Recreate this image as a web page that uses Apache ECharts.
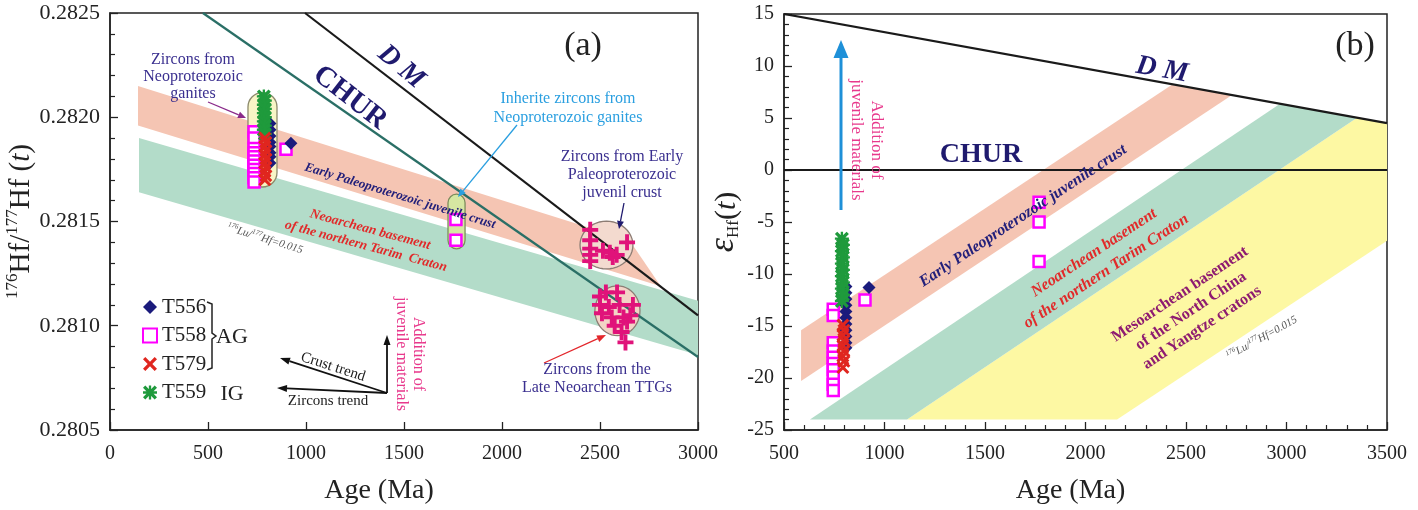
<!DOCTYPE html>
<html><head><meta charset="utf-8">
<script src="https://cdn.jsdelivr.net/npm/echarts@6/dist/echarts.min.js"></script>
<style>html,body{margin:0;padding:0;background:#fff}#c{width:1418px;height:510px}</style>
</head><body><div id="c"></div>
<script>
// ================= DATA =================
// Panel (a): 176Hf/177Hf(t) vs Age (Ma)
const dmLineA   = [[995, 0.28250], [3000, 0.28105]];
const churLineA = [[474, 0.28250], [3000, 0.28085]];
const pinkBandA  = [[143, 0.28215], [2650, 0.28141], [2810, 0.28119], [143, 0.28196]];
const greenBandA = [[148, 0.28190], [3000, 0.28112], [3000, 0.28086], [148, 0.28164]];

const t556A = [[816,0.28197],[816,0.28194],[816,0.28191],[816,0.28188],[816,0.28186],[816,0.28183],[816,0.28181],[816,0.28178],[923,0.281875]];
const t558A = [[735,0.28193],[735,0.28190],[735,0.28185],[735,0.28183],[735,0.28181],[735,0.28179],[735,0.28177],[735,0.28175],[735,0.28173],[735,0.28171],[735,0.28169],[898,0.281846],[1765,0.28151],[1765,0.28141]];
const t579A = [[790,0.28190],[795,0.28188],[790,0.28186],[795,0.28184],[790,0.28182],[795,0.28180],[790,0.28178],[795,0.28176],[790,0.28174],[795,0.28172],[790,0.28170]];
const t559A = [[785,0.28210],[790,0.28208],[785,0.28206],[790,0.28204],[785,0.28202],[790,0.28200],[785,0.28198],[790,0.28196],[785,0.28194],[790,0.28192]];
const earlyPaleoZirconsA = [[2450,0.28146],[2450,0.28141],[2450,0.28137],[2450,0.28134],[2450,0.28131],[2515,0.28136],[2550,0.28135],[2565,0.28133],[2585,0.28134],[2638,0.28140]];
const lateNeoarcheanZirconsA = [[2500,0.28114],[2500,0.28110],[2510,0.28106],[2530,0.28116],[2545,0.28109],[2560,0.28104],[2575,0.28100],[2587,0.28116],[2600,0.28110],[2610,0.28097],[2620,0.28104],[2630,0.28092],[2638,0.28102],[2668,0.28110],[2655,0.28105]];
// grouped sample regions [centre age, centre value, width (Ma), height]
const blobRegionsA = [[778, 0.281892, 148, 0.000453], [1768, 0.281500, 87, 0.000262], [2533, 0.281387, 270, 0.000229], [2589, 0.281072, 230, 0.000239]];

// Panel (b): εHf(t) vs Age (Ma)
const dmLineB   = [[500, 15], [3500, 4.5]];
const churLineB = [[500, 0], [3500, 0]];
const pinkBandB   = [[585, -15.4], [2430, 8.2], [2729, 7.2], [585, -20.3]];
const greenBandB  = [[629, -24], [2968, 6.36], [3351, 5.02], [1112, -24]];
const yellowBandB = [[1112, -24], [3351, 5.02], [3500, 4.5], [3500, -6.8], [2157, -24]];

const t556B = [[808,-11.2],[808,-11.8],[808,-12.4],[808,-13.0],[808,-13.6],[808,-14.2],[808,-14.8],[808,-15.4],[808,-16.0],[808,-16.6],[808,-17.1],[923,-11.3]];
const t558B = [[745,-13.4],[745,-14.0],[745,-16.6],[745,-17.4],[745,-18.0],[745,-18.6],[745,-19.2],[745,-19.9],[745,-20.6],[745,-21.2],[903,-12.5],[1769,-3.1],[1769,-5.0],[1769,-8.8]];
const t579B = [[793,-14.9],[798,-15.4],[793,-15.9],[798,-16.4],[793,-16.9],[798,-17.4],[793,-17.9],[798,-18.4],[793,-19.0]];
const t559B = [[788,-6.6],[793,-7.2],[788,-7.8],[793,-8.4],[788,-9.0],[793,-9.6],[788,-10.2],[793,-10.8],[788,-11.4],[793,-12.0],[788,-12.6]];

// axis ranges / ticks
const axisA = {xMin:0, xMax:3000, xStep:500, yMin:0.2805, yMax:0.2825, yStep:0.0005};
const axisB = {xMin:500, xMax:3500, xStep:500, yMin:-25, yMax:15, yStep:5};

// ================= STYLE / LAYOUT =================
const SERIF = '"Liberation Serif","Times New Roman",serif';
const C = {navy:'#1f1a6e', ann:'#3a2f8f', red:'#e12a2a', blue:'#2a9fe0', mag:'#e8388c', purple:'#8e1b70',
  pink:'#f5c5b3', green:'#b3dcc9', yellow:'#fdf8a3', cross:'#e0137a'};
const P_STAR = 'path://M2,0 L6,4 L10,0 L12,2 L8,6 L12,10 L10,12 L6,8 L2,12 L0,10 L4,6 L0,2 Z M0,5 L12,5 L12,7 L0,7 Z M5,0 L7,0 L7,12 L5,12 Z';
const P_X = 'path://M2,0 L6,4 L10,0 L12,2 L8,6 L12,10 L10,12 L6,8 L2,12 L0,10 L4,6 L0,2 Z';
const P_PLUS = 'path://M5.3,0 L8.7,0 L8.7,5.3 L14,5.3 L14,8.7 L8.7,8.7 L8.7,14 L5.3,14 L5.3,8.7 L0,8.7 L0,5.3 L5.3,5.3 Z';

function bandSeries(pts, color, gi, z) {
  return {type:'custom', xAxisIndex:gi, yAxisIndex:gi, z:z, silent:true, clip:true,
    data: pts, encode:{x:0, y:1},
    renderItem: function (params, api) {
      if (params.dataIndex !== 0) return null;
      return {type:'polygon', shape:{points: pts.map(p => api.coord(p))}, style:{fill: color}};
    }};
}
const blobStyles = [
  {fill:'#f8f5c6', stroke:'#8c8a6c', kind:'stadium'},
  {fill:'#d6e7a2', stroke:'#7d8c5c', kind:'stadium'},
  {fill:'#f3dacf', stroke:'#8c7c74', kind:'ellipse'},
  {fill:'#f3d3c6', stroke:'#8c7c74', kind:'ellipse'}
];
function blobSeries() {
  return {type:'custom', xAxisIndex:0, yAxisIndex:0, z:3, silent:true, data: blobRegionsA,
    encode:{x:0, y:1},
    renderItem: function (params, api) {
      const d = blobRegionsA[params.dataIndex];
      const c = api.coord([d[0], d[1]]);
      const s = api.size([d[2], d[3]]);
      const st = blobStyles[params.dataIndex];
      const style = {fill: st.fill, stroke: st.stroke, lineWidth: 1.3};
      if (st.kind === 'stadium') {
        return {type:'rect', shape:{x:c[0]-s[0]/2, y:c[1]-s[1]/2, width:s[0], height:s[1], r:s[0]/2}, style};
      }
      const pts = [];
      for (let k = 0; k < 48; k++) { const a = k/48*2*Math.PI; pts.push([c[0]+s[0]/2*Math.cos(a), c[1]+s[1]/2*Math.sin(a)]); }
      return {type:'polygon', shape:{points:pts}, style};
    }};
}
function lineSeries(data, color, gi, w) {
  return {type:'line', xAxisIndex:gi, yAxisIndex:gi, data, symbol:'none', silent:true, z:4,
    lineStyle:{color, width:w}, clip:true};
}
const sym = {
  T556: {symbol:'diamond', symbolSize:13, itemStyle:{color:'#1b1b7c', opacity:1}},
  T558: {symbol:'rect', symbolSize:11, itemStyle:{color:'#ffffff', borderColor:'#ff00ff', borderWidth:2.5, opacity:1}},
  T579: {symbol:P_X, symbolSize:13, itemStyle:{color:'#e0261f', opacity:1}},
  T559: {symbol:P_STAR, symbolSize:14, itemStyle:{color:'#1f9a3c', opacity:1}}
};
function scat(name, data, gi, z) {
  return Object.assign({type:'scatter', name, xAxisIndex:gi, yAxisIndex:gi, data, z, silent:true}, sym[name]);
}
function cross(name, data) {
  return {type:'scatter', name, xAxisIndex:0, yAxisIndex:0, data, z:6, symbol:P_PLUS, symbolSize:16,
    itemStyle:{color:C.cross, opacity:1}, silent:true};
}

function xAxis(gi, ax, minor) {
  return {gridIndex:gi, type:'value', min:ax.xMin, max:ax.xMax, interval:ax.xStep,
    axisLine:{show:true, onZero:false, lineStyle:{color:'#222', width:1.5}},
    axisTick:{show:true, inside:true, length:8, lineStyle:{color:'#222', width:1.3}},
    minorTick:{show:minor, splitNumber:5, length:5, lineStyle:{color:'#222', width:1.2}},
    axisLabel:{fontSize:20, fontFamily:SERIF, color:'#222', margin:14, formatter: v => String(v)},
    splitLine:{show:false},
    name:'Age (Ma)', nameLocation:'middle', nameGap:47,
    nameTextStyle:{fontSize:28, fontFamily:SERIF, color:'#222', padding: gi === 0 ? [0,50,0,0] : [0,30,0,0]}};
}
function yAxis(gi, ax, fmt, fs, name, nameStyle, gap) {
  return {gridIndex:gi, type:'value', min:ax.yMin, max:ax.yMax, interval:ax.yStep,
    axisLine:{show:true, onZero:false, lineStyle:{color:'#222', width:1.5}},
    axisTick:{show:true, inside:true, length:8, lineStyle:{color:'#222', width:1.3}},
    minorTick:{show:true, splitNumber:5, length:5, lineStyle:{color:'#222', width:1.2}},
    axisLabel:{fontSize:fs, fontFamily:SERIF, color:'#222', margin:10, formatter:fmt},
    splitLine:{show:false},
    name, nameLocation:'middle', nameRotate:90, nameGap:gap, nameTextStyle:nameStyle};
}

// -------- annotations (graphic) --------
function txt(x, y, text, o) {
  o = o || {};
  return {type:'text', x, y, rotation:(o.rot || 0) * Math.PI / 180, z:100, silent:true,
    style:{text, fill:o.color || '#222', fontSize:o.size || 16, fontFamily:SERIF,
      fontWeight:o.weight || 'normal', fontStyle:o.style || 'normal', align:'center', verticalAlign:'middle',
      lineHeight:o.lh || undefined, rich:o.rich}};
}
function arrow(x1, y1, x2, y2, color, w, hl, hw) {
  const a = Math.atan2(y2-y1, x2-x1);
  const bx = x2 - hl*Math.cos(a), by = y2 - hl*Math.sin(a);
  const px = -Math.sin(a)*hw, py = Math.cos(a)*hw;
  return [
    {type:'line', z:90, silent:true, shape:{x1, y1, x2:bx, y2:by}, style:{stroke:color, lineWidth:w}},
    {type:'polygon', z:90, silent:true, shape:{points:[[x2,y2],[bx+px,by+py],[bx-px,by-py]]}, style:{fill:color}}
  ];
}
const luRich = {s:{fontSize:7, fontStyle:'italic', fontFamily:SERIF, fill:'#555', verticalAlign:'top', lineHeight:14},
                t:{fontSize:11, fontStyle:'italic', fontFamily:SERIF, fill:'#555', lineHeight:14}};
const graphics = [].concat(
  // panel (a)
  txt(583, 46, '(a)', {size:34}),
  txt(401, 67, 'D M', {size:28, weight:'bold', style:'italic', color:C.navy, rot:-40}),
  txt(350, 98, 'CHUR', {size:29, weight:'bold', color:C.navy, rot:-38}),
  txt(193, 77, 'Zircons from\nNeoproterozoic\nganites', {size:16, color:C.ann, lh:17}),
  arrow(208, 102, 246, 118, '#8a2a8a', 1.3, 8, 3.5),
  txt(568, 108, 'Inherite zircons from\nNeoproterozoic ganites', {size:16, color:C.blue, lh:19}),
  arrow(517, 125, 458, 197, C.blue, 1.3, 8, 3.5),
  txt(622, 175, 'Zircons from Early\nPaleoproterozoic\njuvenil crust', {size:16, color:C.ann, lh:18}),
  arrow(624, 203, 619, 229, C.navy, 1.3, 8, 3.5),
  txt(597, 379, 'Zircons from the\nLate Neoarchean TTGs', {size:16, color:C.ann, lh:18}),
  arrow(544, 363, 606, 335, '#e3262b', 1.3, 9, 3.5),
  txt(400, 196, 'Early Paleoproterozoic juvenile crust', {size:13, weight:'bold', style:'italic', color:'#23207a', rot:-17}),
  txt(368, 238, 'Neoarchean basement\nof the northern Tarim  Craton', {size:13.5, weight:'bold', style:'italic', color:C.red, rot:-15, lh:17}),
  txt(265, 239, '{s|176}{t|Lu/}{s|177}{t|Hf=0.015}', {rot:-17, rich:luRich}),
  // legend extras
  {type:'polyline', z:100, silent:true, shape:{points:[[207,302],[212,304],[212,333],[216,336],[212,339],[212,368],[207,370]]}, style:{stroke:'#222', lineWidth:1.5, fill:null}},
  txt(232, 337, 'AG', {size:22}),
  txt(232, 394, 'IG', {size:22}),
  // trend arrows
  arrow(387, 393, 280, 358, '#111', 1.8, 10, 3.5),
  arrow(387, 393, 277, 388, '#111', 1.8, 10, 3.5),
  arrow(387, 393, 387, 335, '#111', 1.8, 10, 3.5),
  txt(333, 367, 'Crust trend', {size:15, rot:-18}),
  txt(328, 401, 'Zircons trend', {size:15}),
  txt(410, 354, 'Addition of\njuvenile materials', {size:16, color:C.mag, rot:-90, lh:17}),
  // panel (b)
  txt(1355, 46, '(b)', {size:34}),
  txt(1162, 70, 'D M', {size:28, weight:'bold', style:'italic', color:C.navy, rot:-10}),
  txt(981, 155, 'CHUR', {size:28, weight:'bold', color:C.navy}),
  arrow(841, 210, 841, 40, '#1e90d8', 3, 18, 7.5),
  txt(866, 140, 'Addition of\njuvenile materials', {size:17, color:C.mag, rot:-90, lh:20}),
  txt(1023, 216, 'Early Paleoproterozoic juvenile crust', {size:16, weight:'bold', style:'italic', color:'#23207a', rot:33.5}),
  txt(1100, 262, 'Neoarchean basement\nof the northern Tarim Craton', {size:16, weight:'bold', style:'italic', color:C.red, rot:33.5, lh:22}),
  txt(1191, 311, 'Mesoarchean basement\nof the North China\nand Yangtze cratons', {size:16, weight:'bold', color:C.purple, rot:33.5, lh:20}),
  txt(1262, 338, '{s|176}{t|Lu/}{s|177}{t|Hf=0.015}', {rot:29, rich:luRich})
);

const chart = echarts.init(document.getElementById('c'), null, {renderer:'canvas'});
chart.setOption({
  animation:false,
  backgroundColor:'#ffffff',
  textStyle:{fontFamily:SERIF},
  grid:[
    {left:110, top:13, width:588, height:419, show:true, borderColor:'#222', borderWidth:1.5, backgroundColor:'rgba(0,0,0,0)'},
    {left:784, top:14, width:603, height:419, show:true, borderColor:'#222', borderWidth:1.5, backgroundColor:'rgba(0,0,0,0)'}
  ],
  legend:{
    data:['T556','T558','T579','T559'], orient:'vertical', left:142, top:296, padding:0, itemWidth:14, itemHeight:14, itemGap:6.5,
    selectedMode:false, textStyle:{fontSize:21, fontFamily:SERIF, color:'#222', lineHeight:22, padding:[0,0,0,0]}
  },
  xAxis:[xAxis(0, axisA, false), xAxis(1, axisB, true)],
  yAxis:[
    yAxis(0, axisA, v => v.toFixed(4), 22, '{s|176}{b|Hf/}{s|177}{b|Hf (}{i|t}{b|)}',
      {color:'#222', rich:{
        b:{fontSize:29, fontFamily:SERIF, color:'#222', lineHeight:32, verticalAlign:'bottom'},
        s:{fontSize:17, fontFamily:SERIF, color:'#222', lineHeight:32, verticalAlign:'top'},
        i:{fontSize:29, fontFamily:SERIF, fontStyle:'italic', color:'#222', lineHeight:32, verticalAlign:'bottom'}}}, 70),
    yAxis(1, axisB, v => String(v), 20, '{e|ε}{sub|Hf}{b|(}{i|t}{b|)}',
      {color:'#222', rich:{
        e:{fontSize:36, fontFamily:SERIF, fontStyle:'italic', color:'#222', lineHeight:38, verticalAlign:'bottom'},
        sub:{fontSize:17, fontFamily:SERIF, color:'#222', lineHeight:38, verticalAlign:'bottom'},
        b:{fontSize:30, fontFamily:SERIF, color:'#222', lineHeight:38, verticalAlign:'bottom'},
        i:{fontSize:30, fontFamily:SERIF, fontStyle:'italic', color:'#222', lineHeight:38, verticalAlign:'bottom'}}}, 42)
  ],
  series:[
    bandSeries(pinkBandA, C.pink, 0, 1),
    bandSeries(greenBandA, C.green, 0, 1),
    bandSeries(yellowBandB, C.yellow, 1, 1),
    bandSeries(greenBandB, C.green, 1, 1),
    bandSeries(pinkBandB, C.pink, 1, 1),
    blobSeries(),
    lineSeries(churLineA, '#2a6f66', 0, 2.2),
    lineSeries(dmLineA, '#1a1a1a', 0, 2.2),
    lineSeries(churLineB, '#1a1a1a', 1, 2),
    lineSeries(dmLineB, '#1a1a1a', 1, 2.2),
    scat('T558', t558A, 0, 5), scat('T556', t556A, 0, 5), scat('T559', t559A, 0, 6), scat('T579', t579A, 0, 6),
    scat('T558', t558B, 1, 5), scat('T556', t556B, 1, 5), scat('T559', t559B, 1, 6), scat('T579', t579B, 1, 6),
    cross('Early Paleoproterozoic zircons', earlyPaleoZirconsA),
    cross('Late Neoarchean TTG zircons', lateNeoarcheanZirconsA)
  ],
  graphic: graphics
});
</script></body></html>
